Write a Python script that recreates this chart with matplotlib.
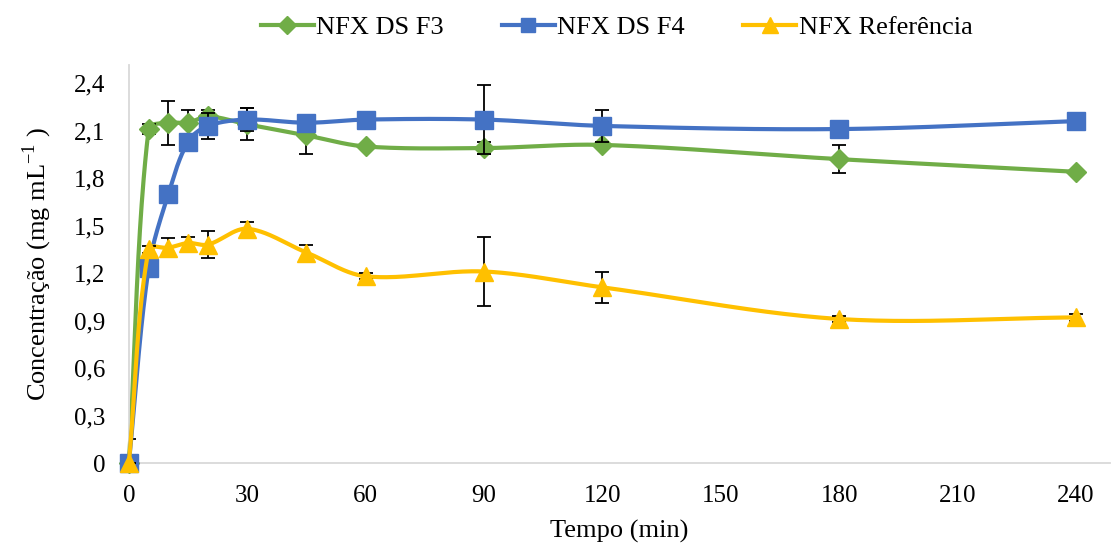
import numpy as np
import matplotlib
matplotlib.use("Agg")
import matplotlib.pyplot as plt
from matplotlib.ticker import FuncFormatter

t = [0, 5, 10, 15, 20, 30, 45, 60, 90, 120, 180, 240]
f3 = [0, 2.11, 2.15, 2.15, 2.19, 2.14, 2.07, 2.00, 1.99, 2.01, 1.92, 1.84]
f3_err = [0.15, 0.03, 0.14, 0.08, 0.04, 0.10, 0.12, 0.01, 0.04, 0.02, 0.09, 0.01]
f4 = [0, 1.23, 1.70, 2.03, 2.13, 2.17, 2.15, 2.17, 2.17, 2.13, 2.11, 2.16]
f4_err = [0, 0.02, 0.05, 0.03, 0.08, 0.07, 0.02, 0.01, 0.22, 0.10, 0.01, 0.01]
ref = [0, 1.35, 1.36, 1.39, 1.38, 1.48, 1.33, 1.18, 1.21, 1.11, 0.91, 0.92]
ref_err = [0, 0.02, 0.06, 0.04, 0.085, 0.04, 0.05, 0.02, 0.22, 0.10, 0.02, 0.02]
labels = ["NFX DS F3", "NFX DS F4", "NFX Referência"]
xticks = [0, 30, 60, 90, 120, 150, 180, 210, 240]
yticks = [0, 0.3, 0.6, 0.9, 1.2, 1.5, 1.8, 2.1, 2.4]

plt.rcParams['font.family'] = ['Liberation Serif', 'DejaVu Serif']
plt.rcParams['mathtext.fontset'] = 'custom'
plt.rcParams['mathtext.rm'] = 'Liberation Serif'


def smooth(ax, x, y, n=40):
    # Excel-like smoothed line: Bezier segments, tangent scaled by segment lengths (screen space)
    P = ax.transData.transform(np.column_stack([x, y]).astype(float))
    m = len(P)
    out = []
    for i in range(m - 1):
        p0 = P[max(i - 1, 0)]
        p1 = P[i]
        p2 = P[i + 1]
        p3 = P[min(i + 2, m - 1)]
        L01 = np.linalg.norm(p1 - p0)
        L12 = np.linalg.norm(p2 - p1)
        L23 = np.linalg.norm(p3 - p2)
        c1 = p1 + (p2 - p0) * (L12 / (L01 + L12)) / 3.0
        c2 = p2 - (p3 - p1) * (L12 / (L12 + L23)) / 3.0
        s = np.linspace(0, 1, n)[:, None]
        b = ((1 - s) ** 3) * p1 + 3 * ((1 - s) ** 2) * s * c1 + 3 * (1 - s) * s ** 2 * c2 + s ** 3 * p2
        out.append(b)
    B = np.vstack(out)
    D = ax.transData.inverted().transform(B)
    return D[:, 0], D[:, 1]


fig = plt.figure(figsize=(11.11, 5.46), dpi=100)
ax = fig.add_axes([0.116, 0.152, 0.883, 0.729])
ax.set_xlim(0, 248.6)
ax.set_ylim(0, 2.515)

series = [
    (f3, f3_err, "#70AD47", "D", 10.5),
    (f4, f4_err, "#4472C4", "s", 12.5),
    (ref, ref_err, "#FFC000", "^", 13.5),
]
for k, (y, e, c, m, ms) in enumerate(series):
    sx, sy = smooth(ax, t, y)
    ax.plot(sx, sy, color=c, lw=3, zorder=2 + k * 3, solid_capstyle='round', clip_on=False)
    ax.errorbar(t, y, yerr=e, fmt='none', ecolor='black', elinewidth=1.3,
                capsize=5, capthick=1.3, zorder=3 + k * 3)
    ax.plot(t, y, linestyle='none', marker=m, markersize=ms, color=c,
            markeredgecolor=c, zorder=4 + k * 3, clip_on=False)
    ax.plot([], [], color=c, lw=3, marker=m, markersize=ms * 0.85, label=labels[k])

ax.set_xticks(xticks)
ax.set_yticks(yticks)
ax.yaxis.set_major_formatter(FuncFormatter(lambda v, p: ("%g" % round(v, 1)).replace('.', ',')))
ax.tick_params(length=0, labelsize=18)
ax.tick_params(axis='x', pad=16)
ax.tick_params(axis='y', pad=17)
for s in ['top', 'right']:
    ax.spines[s].set_visible(False)
for s in ['left', 'bottom']:
    ax.spines[s].set_color('#d9d9d9')
    ax.spines[s].set_linewidth(1.3)

ax.set_xlabel("Tempo (min)", fontsize=19, labelpad=9)
ax.set_ylabel(r"Concentração (mg mL$^{\mathregular{-1}}$ )", fontsize=19, labelpad=14)

fig.legend(loc='center', bbox_to_anchor=(0.555, 0.95), ncol=3, frameon=False,
           fontsize=19, handlelength=2.0, columnspacing=2.2, handletextpad=0.1)

fig.savefig("out.png", dpi=100)
